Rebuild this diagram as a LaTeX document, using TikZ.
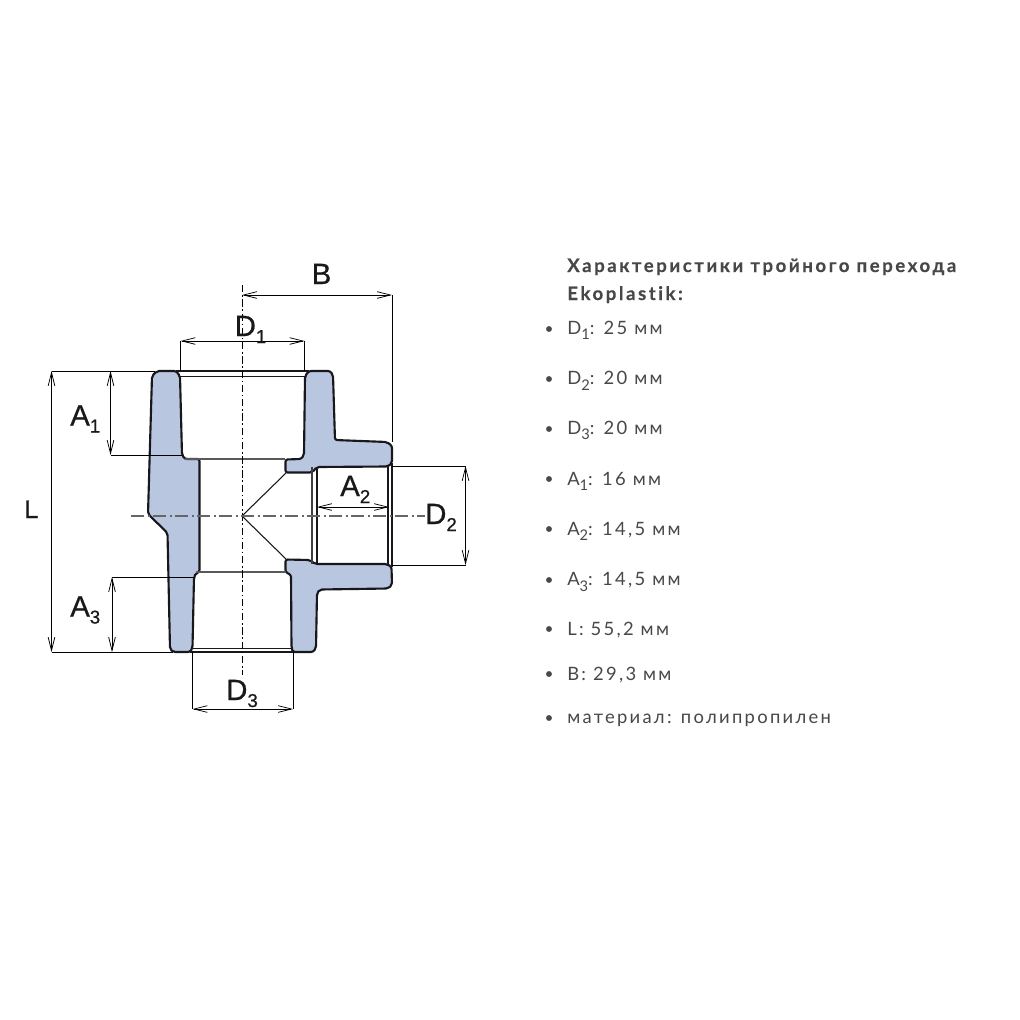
\documentclass[tikz,border=0pt]{standalone}
\usepackage{fontspec}
\setmainfont[FakeBold=0.6]{Liberation Sans}
\newfontfamily\infofont[LetterSpace=12.5,Ligatures=NoCommon]{Lato}
\newfontfamily\infoheadfont[LetterSpace=13.5,Ligatures=NoCommon,FakeBold=0.3]{Lato Bold}
\usetikzlibrary{arrows.meta}
\definecolor{wallblue}{RGB}{184,198,224}
\definecolor{inkdark}{RGB}{24,24,28}
\definecolor{infotext}{RGB}{72,72,72}
\newcommand{\lblsub}[2]{#1\raisebox{-0.24em}{\fontsize{14}{14}\selectfont #2}}
\newcommand{\infosub}[2]{#1\raisebox{-0.30em}{\fontsize{11}{11}\selectfont #2}}
\tikzset{
  wall/.style={fill=wallblue,draw=inkdark,line width=1.6pt,line join=round,rounded corners=1.6pt},
  edgeline/.style={draw=inkdark,line width=0.8pt},
  thickedge/.style={draw=inkdark,line width=2pt},
  extline/.style={draw=black,line width=0.75pt},
  dimline/.style={draw=black,line width=0.65pt,{Straight Barb[length=10pt,width=5pt,line width=0.55pt]}-{Straight Barb[length=10pt,width=5pt,line width=0.55pt]}},
  vaxis/.style={draw=black,line width=0.7pt,dash pattern=on 5.5pt off 2pt on 1.2pt off 2pt},
  haxis/.style={draw=black!60,line width=0.9pt,dash pattern=on 10pt off 2.5pt on 1.5pt off 2.5pt},
  dimlabel/.style={anchor=base west,inner sep=0pt,font=\fontsize{22}{22}\selectfont,text=black!90},
  infohead/.style={anchor=base west,inner sep=0pt,font=\infoheadfont\fontsize{14}{16}\selectfont,text=infotext},
  infoitem/.style={anchor=base west,inner sep=0pt,font=\infofont\fontsize{13.8}{16}\selectfont,text=infotext},
  infodot/.style={circle,fill=infotext,inner sep=0pt,minimum size=4.4pt}
}
\begin{document}
\begin{tikzpicture}[x=0.75pt,y=-0.75pt]
\useasboundingbox (0,0) rectangle (1020,1020);
\fill[white] (0,0) rectangle (1020,1020);
% reference points
\coordinate (bL) at (242,295);   \coordinate (bR) at (392,295);   \coordinate (bF) at (392,442);
\coordinate (d1L) at (180.5,341); \coordinate (d1R) at (304.5,341);
\coordinate (d1Lf) at (180.5,371); \coordinate (d1Rf) at (304.5,371);
\coordinate (lT) at (51.5,371);  \coordinate (lB) at (51.5,652);
\coordinate (lTf) at (155,371);  \coordinate (lBf) at (173,652);
\coordinate (a1T) at (110.5,371); \coordinate (a1B) at (110.5,455); \coordinate (a1f) at (182,455);
\coordinate (a3T) at (112,577);  \coordinate (a3B) at (112,652);  \coordinate (a3f) at (194,577);
\coordinate (a2L) at (317,507);  \coordinate (a2R) at (389,507);
\coordinate (d2T) at (465.5,466); \coordinate (d2B) at (465.5,565);
\coordinate (d2Tf) at (392,466); \coordinate (d2Bf) at (392,565);
\coordinate (d3L) at (192.5,709); \coordinate (d3R) at (293,709);
\coordinate (d3Lf) at (192.5,652); \coordinate (d3Rf) at (293,652);
\coordinate (vT) at (242,285);   \coordinate (vB) at (242,675);
\coordinate (hL) at (131,516);   \coordinate (hR) at (425,516);
\coordinate (apex) at (242,516); \coordinate (coneU) at (286,473); \coordinate (coneD) at (286,559);
% walls
\path[wall] (152,376) -- (157,371) -- (176,371) -- (180,376) -- (182,455) -- (185,459) -- (199.5,459)
  -- (199.5,572) -- (196,573) -- (194,577) -- (192.5,648) -- (190,652) -- (173,652) -- (170,649)
  -- (167.5,533) -- (148,514) -- cycle;
\path[wall] (309,371) -- (330,371) -- (333,375) -- (335,440) -- (387,442) -- (392,446) -- (392,463)
  -- (388,466.5) -- (317,467) -- (312,472.5) -- (285.5,472.5) -- (285.5,459.5) -- (301,459)
  -- (304,455) -- (305,376) -- cycle;
\path[wall] (285.5,559.5) -- (310,560) -- (315,564) -- (387,564) -- (391.5,567) -- (392,585)
  -- (388,588.5) -- (320,589.5) -- (317,593) -- (316,648) -- (313,652) -- (293,652) -- (291.5,648)
  -- (291,575) -- (285.5,572) -- cycle;
% socket and bore edges
\draw[thickedge] (176,371) -- (309,371);
\draw[thickedge] (190,652) -- (293,652);
\draw[thickedge] (392,463) -- (392,567);
\draw[edgeline] (180,376.5) -- (305,376.5);
\draw[edgeline] (192.5,648.5) -- (291.5,648.5);
\draw[edgeline,draw=black!65] (185,459) -- (285,459);
\draw[edgeline,draw=black!65] (196,572) -- (285.5,572);
\draw[edgeline,draw=black!75] (312,467) -- (312,564);
\draw[edgeline] (317,467) -- (317,564);
\draw[edgeline] (388,466) -- (388,564);
\draw[edgeline] (apex) -- (coneU);
\draw[edgeline] (apex) -- (coneD);
% axes
\draw[vaxis] (vT) -- (vB);
\draw[haxis] (hL) -- (hR);
% extension lines
\draw[extline] (bR) -- (bF);
\draw[extline] (d1L) -- (d1Lf);
\draw[extline] (d1R) -- (d1Rf);
\draw[extline] (lT) -- (lTf);
\draw[extline] (lB) -- (lBf);
\draw[extline] (a1B) -- (a1f);
\draw[extline] (a3T) -- (a3f);
\draw[extline] (d2Tf) -- (d2T);
\draw[extline] (d2Bf) -- (d2B);
\draw[extline] (d3Lf) -- (d3L);
\draw[extline] (d3Rf) -- (d3R);
% dimensions
\draw[dimline] (bL) -- (bR);
\draw[dimline] (d1L) -- (d1R);
\draw[dimline] (lT) -- (lB);
\draw[dimline] (a1T) -- (a1B);
\draw[dimline] (a3T) -- (a3B);
\draw[dimline] (a2L) -- (a2R);
\draw[dimline] (d2T) -- (d2B);
\draw[dimline] (d3L) -- (d3R);
% dimension labels
\node[dimlabel] (labB) at (311.5,284) {B};
\node[dimlabel] (labD1) at (234.5,336) {\lblsub{D}{1}};
\node[dimlabel] (labA1) at (70,425.5) {\lblsub{A}{1}};
\node[dimlabel] (labA2) at (340,496) {\lblsub{A}{2}};
\node[dimlabel] (labA3) at (70,616.5) {\lblsub{A}{3}};
\node[dimlabel] (labD2) at (425,524) {\lblsub{D}{2}};
\node[dimlabel] (labD3) at (226,700) {\lblsub{D}{3}};
\node[dimlabel,font=\fontsize{19}{19}\selectfont] (labL) at (24,518) {L};
% specification text
\node[infohead] (head1) at (567,272) {Характеристики тройного перехода};
\node[infohead] (head2) at (567,300) {Ekoplastik:};
\node[infodot] (dot1) at (549,329) {};
\node[infoitem] (item1) at (567,334) {\infosub{D}{1}: 25 мм};
\node[infodot] (dot2) at (549,379) {};
\node[infoitem] (item2) at (567,384.5) {\infosub{D}{2}: 20 мм};
\node[infodot] (dot3) at (549,429) {};
\node[infoitem] (item3) at (567,434) {\infosub{D}{3}: 20 мм};
\node[infodot] (dot4) at (549,479) {};
\node[infoitem] (item4) at (567,485) {\infosub{A}{1}: 16 мм};
\node[infodot] (dot5) at (549,529) {};
\node[infoitem] (item5) at (567,535) {\infosub{A}{2}: 14,5 мм};
\node[infodot] (dot6) at (549,580) {};
\node[infoitem] (item6) at (567,585.5) {\infosub{A}{3}: 14,5 мм};
\node[infodot] (dot7) at (549,629) {};
\node[infoitem] (item7) at (567,635) {L: 55,2 мм};
\node[infodot] (dot8) at (549,674) {};
\node[infoitem] (item8) at (567,680) {B: 29,3 мм};
\node[infodot] (dot9) at (549,718) {};
\node[infoitem] (item9) at (567,723.5) {материал: полипропилен};
\end{tikzpicture}
\end{document}
